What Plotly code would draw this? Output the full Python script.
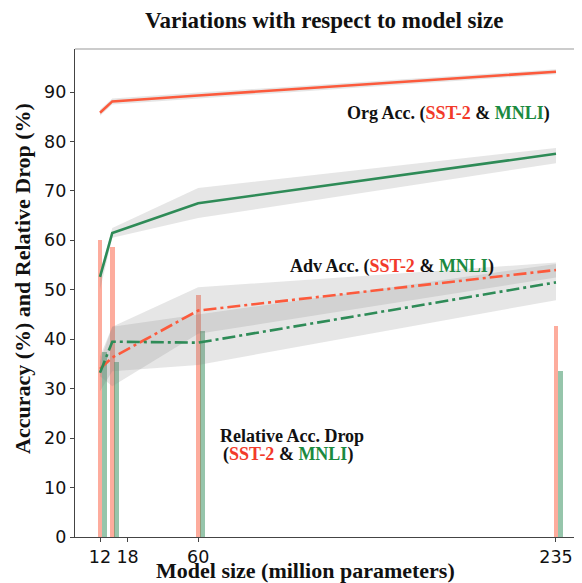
import plotly.graph_objects as go

# ---------------- data ----------------
model_sizes = [12, 18, 60, 235]
tick_vals = [12, 25.5, 60, 235]
tick_text = ["12", "18", "60", "235"]

org_sst2 = [85.8, 88.1, 89.3, 94.1]
org_sst2_lo = [85.2, 87.5, 88.7, 93.6]
org_sst2_hi = [86.4, 88.7, 89.9, 94.6]

org_mnli = [52.6, 61.5, 67.5, 77.5]
org_mnli_lo = [50.0, 60.5, 64.5, 75.6]
org_mnli_hi = [53.4, 62.5, 70.6, 78.7]

adv_sst2 = [34.0, 36.3, 45.8, 54.0]
adv_sst2_lo = [32.5, 30.5, 41.1, 52.5]
adv_sst2_hi = [35.5, 42.5, 50.5, 55.5]

adv_mnli = [33.2, 39.5, 39.3, 51.5]
adv_mnli_lo = [29.5, 33.5, 34.8, 47.9]
adv_mnli_hi = [36.5, 42.5, 45.0, 55.2]

drop_sst2 = [60.1, 58.6, 49.0, 42.6]
drop_mnli = [37.4, 35.4, 41.6, 33.6]

# ---------------- styles ----------------
ORANGE = "#fc5a3c"
GREEN = "#2e8b57"
BAR_OR = "rgba(252,90,60,0.5)"
BAR_GR = "rgba(46,139,87,0.5)"
BAND = "rgba(128,128,128,0.2)"
TXT_RED = "#f23a2a"
TXT_GREEN = "#1b8a3f"
SERIF = "Liberation Serif"
SANS = "DejaVu Sans"
DASHDOT = "13px,4px,3px,4px"

fig = go.Figure()

# bars (relative drop)
fig.add_trace(go.Bar(x=model_sizes, y=drop_sst2, width=2.3, offset=-1.15,
                     marker=dict(color=BAR_OR, line=dict(width=0)), showlegend=False))
fig.add_trace(go.Bar(x=model_sizes, y=drop_mnli, width=2.3, offset=1.05,
                     marker=dict(color=BAR_GR, line=dict(width=0)), showlegend=False))


def band(lo, hi):
    fig.add_trace(go.Scatter(x=model_sizes + model_sizes[::-1], y=hi + lo[::-1],
                             fill="toself", fillcolor=BAND, line=dict(width=0),
                             mode="lines", hoverinfo="skip", showlegend=False))


band(org_sst2_lo, org_sst2_hi)
band(org_mnli_lo, org_mnli_hi)
band(adv_sst2_lo, adv_sst2_hi)
band(adv_mnli_lo, adv_mnli_hi)

fig.add_trace(go.Scatter(x=model_sizes, y=org_sst2, mode="lines",
                         line=dict(color=ORANGE, width=2.6), showlegend=False))
fig.add_trace(go.Scatter(x=model_sizes, y=org_mnli, mode="lines",
                         line=dict(color=GREEN, width=2.6), showlegend=False))
fig.add_trace(go.Scatter(x=model_sizes, y=adv_sst2, mode="lines",
                         line=dict(color=ORANGE, width=2.6, dash=DASHDOT), showlegend=False))
fig.add_trace(go.Scatter(x=model_sizes, y=adv_mnli, mode="lines",
                         line=dict(color=GREEN, width=2.6, dash=DASHDOT), showlegend=False))


def lab(prefix):
    return (f"<b>{prefix}(<span style='color:{TXT_RED}'>SST-2</span> &amp; "
            f"<span style='color:{TXT_GREEN}'>MNLI</span>)</b>")


ann_font = dict(family=SERIF, size=18, color="#111111")
annotations = [
    dict(x=182.3, y=85.7, xref="x", yref="y", text=lab("Org Acc. "), showarrow=False,
         font=ann_font, xanchor="center", yanchor="middle"),
    dict(x=154.6, y=54.8, xref="x", yref="y", text=lab("Adv Acc. "), showarrow=False,
         font=ann_font, xanchor="center", yanchor="middle"),
    dict(x=106.1, y=20.4, xref="x", yref="y", text="<b>Relative Acc. Drop</b>", showarrow=False,
         font=ann_font, xanchor="center", yanchor="middle"),
    dict(x=103.9, y=16.6, xref="x", yref="y", text=lab(""), showarrow=False,
         font=ann_font, xanchor="center", yanchor="middle"),
    # title
    dict(x=(324 - 75) / 507, y=(537 - 20) / 488, xref="paper", yref="paper",
         text="<b>Variations with respect to model size</b>", showarrow=False,
         font=dict(family=SERIF, size=23, color="#111111"), xanchor="center", yanchor="middle"),
    # axis titles
    dict(x=(305.5 - 75) / 507, y=(537 - 570) / 488, xref="paper", yref="paper",
         text="<b>Model size (million parameters)</b>", showarrow=False,
         font=dict(family=SERIF, size=22, color="#111111"), xanchor="center", yanchor="middle"),
    dict(x=(22 - 75) / 507, y=(537 - 279) / 488, xref="paper", yref="paper",
         text="<b>Accuracy (%) and Relative Drop (%)</b>", showarrow=False, textangle=-90,
         font=dict(family=SERIF, size=22, color="#111111"), xanchor="center", yanchor="middle"),
]

# page has an 8px body margin: figure is 574x575 drawn at (8, 8)
fig.update_layout(
    width=574, height=575,
    margin=dict(l=67, r=0, t=41, b=46),
    paper_bgcolor="white", plot_bgcolor="white",
    barmode="overlay", bargap=0,
    annotations=annotations,
    xaxis=dict(range=[-0.23, 247.72], tickvals=tick_vals, ticktext=tick_text,
               showgrid=False, zeroline=False, showline=True, linecolor="#444444",
               linewidth=1.2, ticks="outside", ticklen=4, tickcolor="#444444",
               tickfont=dict(family=SANS, size=17.5, color="#111111"), mirror=False),
    yaxis=dict(range=[0, 98.7], tickvals=[0, 10, 20, 30, 40, 50, 60, 70, 80, 90],
               showgrid=False, zeroline=False, showline=True, linecolor="#444444",
               linewidth=1.2, ticks="outside", ticklen=4, tickcolor="#444444",
               tickfont=dict(family=SANS, size=17.5, color="#111111")),
    shapes=[dict(type="line", xref="paper", yref="paper", x0=0, x1=1, y0=1, y1=1,
                 line=dict(color="#999999", width=1))],
)

fig.write_html("out.html")
